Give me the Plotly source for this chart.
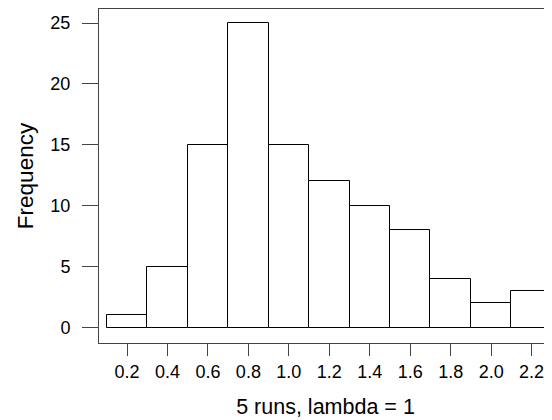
import plotly.graph_objects as go

bin_centers = [0.2, 0.4, 0.6, 0.8, 1.0, 1.2, 1.4, 1.6, 1.8, 2.0, 2.2]
counts = [1, 5, 15, 25, 15, 12, 10, 8, 4, 2, 3]
bin_width = 0.2
x_ticks = [0.2, 0.4, 0.6, 0.8, 1.0, 1.2, 1.4, 1.6, 1.8, 2.0, 2.2]
y_ticks = [0, 5, 10, 15, 20, 25]
x_title = "5 runs, lambda = 1"
y_title = "Frequency"

fig = go.Figure()
fig.add_trace(go.Bar(
    x=bin_centers, y=counts, width=[bin_width] * len(counts),
    marker=dict(color="white", line=dict(color="black", width=1)),
    hoverinfo="x+y",
))

font = "Liberation Sans, Arial, sans-serif"
fig.update_layout(
    width=544, height=412,
    margin=dict(l=91, r=0, t=1, b=77, autoexpand=False),
    plot_bgcolor="white", paper_bgcolor="white",
    showlegend=False, bargap=0,
    font=dict(family=font, size=18, color="black"),
    xaxis=dict(
        range=[0.0616, 2.3008], tickvals=x_ticks, tickformat=".1f",
        showline=True, linecolor="#444", linewidth=1, mirror=True,
        ticks="outside", ticklen=12, tickcolor="#444", tickwidth=1,
        showgrid=False, zeroline=False, automargin=False,
        tickfont=dict(size=18),
        title=dict(text=x_title, font=dict(size=21.5), standoff=18),
    ),
    yaxis=dict(
        range=[-1.265, 26.15], tickvals=y_ticks,
        showline=True, linecolor="#444", linewidth=1,
        ticks="outside", ticklen=16, tickcolor="#444", tickwidth=1,
        ticklabelstandoff=8,
        showgrid=False, zeroline=False, automargin=False,
        tickfont=dict(size=18),
        title=dict(text=y_title, font=dict(size=22.5), standoff=10),
    ),
)

fig.write_html("out.html")
